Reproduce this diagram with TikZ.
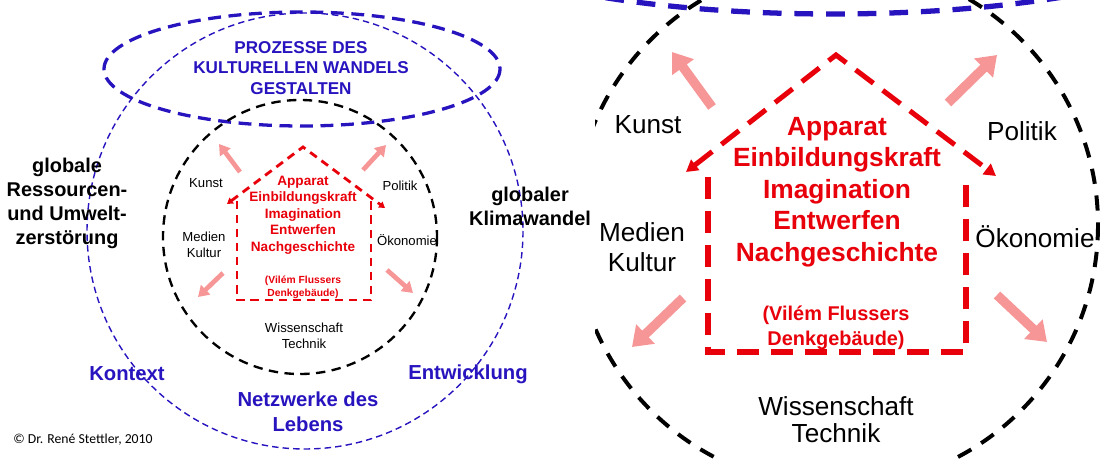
\documentclass[tikz,border=0pt]{standalone}
\usepackage{fontspec}
\setmainfont{Liberation Sans}
\newfontfamily\califont{Carlito}
\usetikzlibrary{arrows.meta}
\definecolor{myblue}{RGB}{40,20,190}
\definecolor{myred}{RGB}{232,0,10}
\definecolor{mypink}{RGB}{247,150,150}
\tikzset{
 txt/.style={align=center,inner sep=0pt},
 bluehead/.style={txt,text=myblue,font=\bfseries\fontsize{14.6}{17.4}\selectfont},
 blacklbl/.style={txt,font=\bfseries\fontsize{17}{20.5}\selectfont},
 bluelbl/.style={txt,text=myblue,font=\bfseries\fontsize{17.3}{21.3}\selectfont},
 smalllbl/.style={txt,font=\fontsize{11.2}{13.2}\selectfont},
 housetxtS/.style={txt,text=myred,font=\bfseries\fontsize{11.6}{14}\selectfont},
 housenoteS/.style={txt,text=myred,font=\bfseries\fontsize{8.8}{11}\selectfont},
 biglbl/.style={txt,font=\fontsize{22.3}{25}\selectfont},
 housetxtL/.style={txt,text=myred,font=\bfseries\fontsize{22.5}{27}\selectfont},
 housenoteL/.style={txt,text=myred,font=\bfseries\fontsize{17}{21.3}\selectfont},
 copyr/.style={txt,font=\califont\fontsize{11.7}{14}\selectfont},
 bluethin/.style={myblue,line width=1.2pt,dash pattern=on 5.5pt off 3.5pt},
 blueellS/.style={myblue,line width=2.8pt,dash pattern=on 11pt off 6.5pt},
 blackcircS/.style={black,line width=2pt,dash pattern=on 8pt off 5.5pt},
 redhouseS/.style={myred,line width=2.4pt,dash pattern=on 7pt off 5pt},
 roofS/.style={redhouseS,{Triangle[length=5pt,width=6pt]}-{Triangle[length=5pt,width=6pt]}},
 pinkS/.style={mypink,line width=4pt,-{Triangle[length=9pt,width=11pt]}},
 blueellL/.style={myblue,line width=4.5pt,dash pattern=on 16pt off 11pt},
 blackcircL/.style={black,line width=3.4pt,dash pattern=on 13pt off 10pt},
 redhouseL/.style={myred,line width=4.3pt,dash pattern=on 19pt off 10pt},
 roofL/.style={redhouseL,{Triangle[length=10pt,width=11pt]}-{Triangle[length=10pt,width=11pt]}},
 pinkL/.style={mypink,line width=8pt,-{Triangle[length=16pt,width=22pt]}}
}
\begin{document}
\begin{tikzpicture}[x=0.03cm,y=-0.03cm]
\useasboundingbox (0,0) rectangle (1100,460);

% ---------------- left panel ----------------
\draw[bluethin] (305,231) circle (218);
\draw[blueellS] (302,69) ellipse [x radius=198, y radius=57];
\draw[blackcircS] (300,237) circle (137);

\node[bluehead] (proz) at (301,68) {PROZESSE DES\\KULTURELLEN WANDELS\\GESTALTEN};
\node[blacklbl] (ress) at (67,203) {globale\\Ressourcen-\\und Umwelt-\\zerstörung};
\node[blacklbl] (klima) at (530,206) {globaler\\Klimawandel};
\node[bluelbl] (kontext) at (127,374) {Kontext};
\node[bluelbl] (entw) at (468,374) {Entwicklung};
\node[bluelbl] (netz) at (308,412) {Netzwerke des\\Lebens};
\node[copyr] (copy) at (83,440) {© Dr. René Stettler, 2010};

% house (small)
\coordinate (sApex) at (303,147);
\coordinate (sLT) at (227,204);
\coordinate (sRT) at (385,208);
\coordinate (sW1) at (237,201);
\coordinate (sW2) at (237,300);
\coordinate (sW3) at (371,300);
\coordinate (sW4) at (371,201);
\draw[roofS] (sLT) -- (sApex) -- (sRT);
\draw[redhouseS] (sW1) -- (sW2) -- (sW3) -- (sW4);
\node[housetxtS] (sMain) at (303,215) {Apparat\\Einbildungskraft\\Imagination\\Entwerfen\\Nachgeschichte};
\node[housenoteS] (sNote) at (303,287) {(Vilém Flussers\\Denkgebäude)};

\node[smalllbl] (sKunst) at (206,183) {Kunst};
\node[smalllbl] (sPol) at (400,186) {Politik};
\node[smalllbl] (sMed) at (204,245) {Medien\\Kultur};
\node[smalllbl] (sOek) at (407,240) {Ökonomie};
\node[smalllbl] (sWiss) at (304,336) {Wissenschaft\\Technik};

\coordinate (sA1s) at (240,172); \coordinate (sA1e) at (219,144);
\coordinate (sA2s) at (363,170); \coordinate (sA2e) at (386,145);
\coordinate (sA3s) at (223,273); \coordinate (sA3e) at (198,297);
\coordinate (sA4s) at (387,270); \coordinate (sA4e) at (413,293);
\draw[pinkS] (sA1s) -- (sA1e);
\draw[pinkS] (sA2s) -- (sA2e);
\draw[pinkS] (sA3s) -- (sA3e);
\draw[pinkS] (sA4s) -- (sA4e);

% ---------------- right panel (zoom) ----------------
\begin{scope}
\clip (595,0) rectangle (1100,460);
\draw[blueellL] (832,-92) ellipse [x radius=425, y radius=106];
\draw[blackcircL] (836,225) circle (262);

\coordinate (lApex) at (836,55);
\coordinate (lLT) at (686,172);
\coordinate (lRT) at (996,176);
\coordinate (lW1) at (708,177);
\coordinate (lW2) at (708,352);
\coordinate (lW3) at (966,352);
\coordinate (lW4) at (966,177);
\draw[roofL] (lLT) -- (lApex) -- (lRT);
\draw[redhouseL] (lW1) -- (lW2) -- (lW3) -- (lW4);
\node[housetxtL] (lMain) at (837,192) {Apparat\\Einbildungskraft\\Imagination\\Entwerfen\\Nachgeschichte};
\node[housenoteL] (lNote) at (836,328) {(Vilém Flussers\\Denkgebäude)};

\node[biglbl] (lKunst) at (648,125) {Kunst};
\node[biglbl] (lPol) at (1022,131) {Politik};
\node[biglbl,font=\fontsize{22.3}{25.5}\selectfont] (lMed) at (642,247) {Medien\\Kultur};
\node[biglbl] (lOek) at (1035,237) {Ökonomie};
\node[biglbl,font=\fontsize{22.3}{23}\selectfont] (lWiss) at (836,420) {Wissenschaft\\Technik};

\coordinate (lA1s) at (712,107); \coordinate (lA1e) at (672,52);
\coordinate (lA2s) at (948,103); \coordinate (lA2e) at (997,55);
\coordinate (lA3s) at (683,298); \coordinate (lA3e) at (632,347);
\coordinate (lA4s) at (997,295); \coordinate (lA4e) at (1047,342);
\draw[pinkL] (lA1s) -- (lA1e);
\draw[pinkL] (lA2s) -- (lA2e);
\draw[pinkL] (lA3s) -- (lA3e);
\draw[pinkL] (lA4s) -- (lA4e);
\end{scope}
\end{tikzpicture}
\end{document}
